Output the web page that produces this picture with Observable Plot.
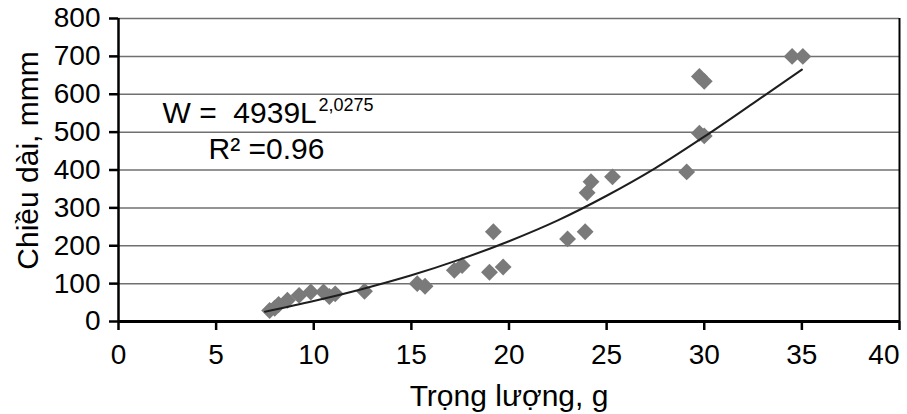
<!DOCTYPE html>
<html><head><meta charset="utf-8">
<script src="https://cdn.jsdelivr.net/npm/d3@7"></script>
<script src="https://cdn.jsdelivr.net/npm/@observablehq/plot@0.6"></script>
<style>body{margin:0;background:#fff}</style>
</head><body><div id="chart"></div>
<script>
// Observed points: weight (g) vs length (mm)
const weight = [7.74, 8.0, 8.2, 8.65, 9.25, 9.85, 10.5, 10.8, 11.1, 12.6, 15.3, 15.7, 17.2, 17.6, 19.0, 19.2, 19.7, 23.0, 23.9, 24.0, 24.2, 25.3, 29.1, 29.75, 30.0, 29.75, 30.0, 34.5, 35.05];
const lengthMm = [29, 35, 45, 56, 69, 78, 78, 66, 73, 80, 100, 93, 135, 148, 130, 237, 144, 218, 237, 340, 369, 382, 395, 647, 634, 497, 490, 700, 700];
// Fitted trend curve
const trendX = [7.5, 10, 12.5, 15, 17.5, 20, 22.5, 25, 27.5, 30, 32.5, 35];
const trendY = [26, 54, 86, 122, 164, 212, 267, 332, 405, 488, 576, 665];
// Ticks and texts
const xTicks = [0, 5, 10, 15, 20, 25, 30, 35];
const xLastTick = [40];
const yTicks = [0, 100, 200, 300, 400, 500, 600, 700, 800];
const xLabel = "Trọng lượng, g";
const yLabel = "Chiều dài, mmm";
const eqMain = "W =  4939L";
const eqExp = "2,0275";
const eqR2 = "R² =0.96";

const points = weight.map((w, i) => ({w, l: lengthMm[i]}));
const trend = trendX.map((x, i) => ({x, y: trendY[i]}));

const chart = Plot.plot({
  width: 907, height: 414,
  marginLeft: 118, marginRight: 8, marginTop: 18, marginBottom: 93,
  style: {fontFamily: "'Liberation Sans', Arial, sans-serif", fontSize: "28px", color: "#000", background: "#fff"},
  x: {domain: [0, 40]},
  y: {domain: [0, 800]},
  marks: [
    Plot.ruleY(yTicks.slice(1), {stroke: "#707070", strokeWidth: 1.5}),
    Plot.ruleX(xLastTick, {stroke: "#000", strokeWidth: 2}),
    Plot.axisY({ticks: yTicks, tickSize: 9, tickPadding: 9, strokeWidth: 2.5, label: null, tickFormat: d => String(d)}),
    Plot.axisX({ticks: xTicks, tickSize: 9, tickPadding: 14, strokeWidth: 2.5, label: null, tickFormat: d => String(d)}),
    Plot.axisX({ticks: xLastTick, tickSize: 9, tickPadding: 14, strokeWidth: 2.5, label: null, textAnchor: "end", dx: 0, tickFormat: d => String(d)}),
    Plot.ruleX([0], {stroke: "#000", strokeWidth: 2.5}),
    Plot.ruleY([0], {stroke: "#000", strokeWidth: 3}),
    Plot.dot(points, {x: "w", y: "l", symbol: "diamond2", r: 7.6, fill: "#7a7a7a", stroke: "none"}),
    Plot.line(trend, {x: "x", y: "y", curve: "catmull-rom", stroke: "#1e1e1e", strokeWidth: 2}),
    Plot.text([xLabel], {text: d => d, frameAnchor: "bottom", textAnchor: "middle", lineAnchor: "bottom", dy: 84, fontSize: 30}),
    Plot.text([yLabel], {text: d => d, frameAnchor: "left", textAnchor: "middle", lineAnchor: "middle", rotate: -90, dx: -90.6, dy: -9.5, fontSize: 30}),
    Plot.text([eqMain], {text: d => d, frameAnchor: "top-left", textAnchor: "start", lineAnchor: "bottom", dx: 44, dy: 104, fontSize: 30}),
    Plot.text([eqExp], {text: d => d, frameAnchor: "top-left", textAnchor: "start", lineAnchor: "bottom", dx: 200, dy: 92, fontSize: 18}),
    Plot.text([eqR2], {text: d => d, frameAnchor: "top-left", textAnchor: "start", lineAnchor: "bottom", dx: 90, dy: 140, fontSize: 30})
  ]
});
document.getElementById("chart").appendChild(chart);
</script>
</body></html>
